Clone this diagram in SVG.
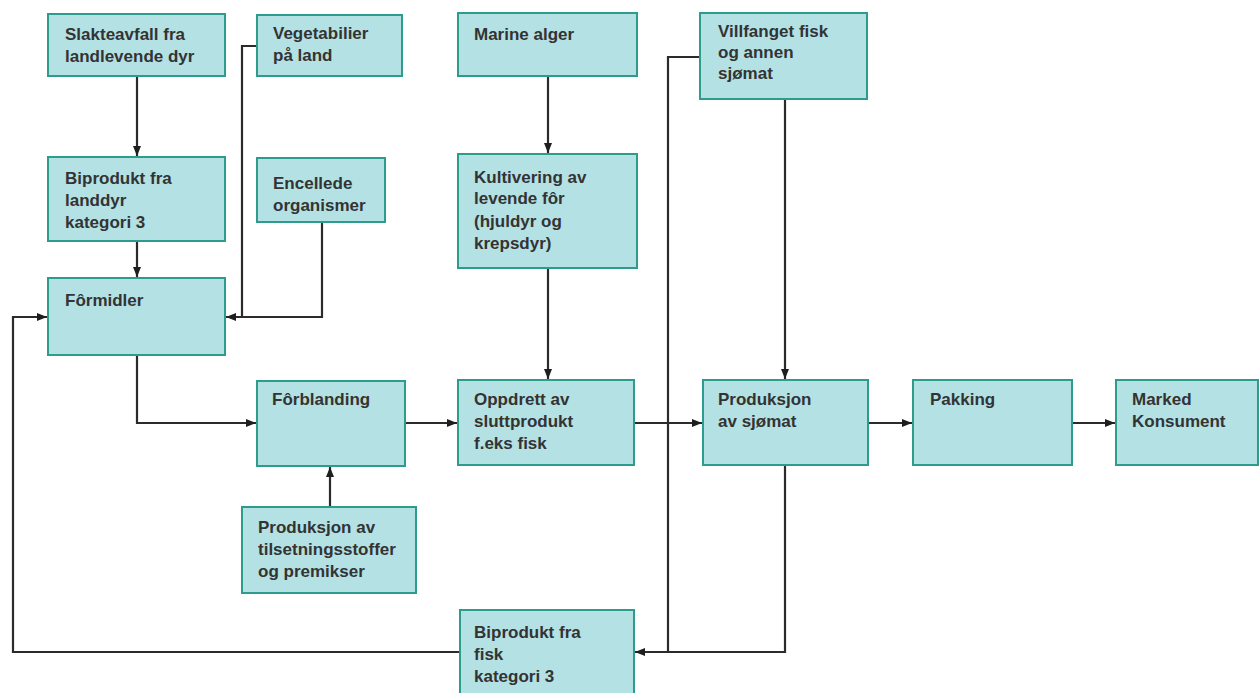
<svg xmlns="http://www.w3.org/2000/svg" width="1260" height="693" viewBox="0 0 1260 693">
<style>
.box{fill:#b4e1e4;stroke:#2e9c8c;stroke-width:2}
.t{font-family:"Liberation Sans",Arial,sans-serif;font-size:17px;font-weight:bold;fill:#333333}
.c{fill:none;stroke:#2b2b2b;stroke-width:2.2}
</style>
<defs>
<marker id="ah" viewBox="0 0 10 10" refX="10" refY="5" markerWidth="10" markerHeight="10" orient="auto" markerUnits="userSpaceOnUse">
<path d="M0,1 L10,5 L0,9 z" fill="#1e1e1e"/>
</marker>
</defs>
<rect width="1260" height="693" fill="#ffffff"/>
<g id="connectors">
<path class="c" d="M137,76 V156" marker-end="url(#ah)"/>
<path class="c" d="M137,241 V277" marker-end="url(#ah)"/>
<path class="c" d="M257,46 H242 V317"/>
<path class="c" d="M322,222 V317 H226" marker-end="url(#ah)"/>
<path class="c" d="M137,355 V423 H256" marker-end="url(#ah)"/>
<path class="c" d="M330,507 V467" marker-end="url(#ah)"/>
<path class="c" d="M405,423 H457" marker-end="url(#ah)"/>
<path class="c" d="M548,76 V153" marker-end="url(#ah)"/>
<path class="c" d="M548,268 V379" marker-end="url(#ah)"/>
<path class="c" d="M634,423 H702" marker-end="url(#ah)"/>
<path class="c" d="M785,99 V379" marker-end="url(#ah)"/>
<path class="c" d="M700,57 H668 V652"/>
<path class="c" d="M785,465 V652 H635" marker-end="url(#ah)"/>
<path class="c" d="M460,652 H13 V317 H47" marker-end="url(#ah)"/>
<path class="c" d="M868,423 H912" marker-end="url(#ah)"/>
<path class="c" d="M1072,423 H1115" marker-end="url(#ah)"/>
</g>
<g id="n1"><rect class="box" x="48" y="14" width="177" height="62"/><text class="t" x="65" y="40">Slakteavfall fra</text><text class="t" x="65" y="62">landlevende dyr</text></g>
<g id="n2"><rect class="box" x="257" y="15" width="145" height="61"/><text class="t" x="273" y="39">Vegetabilier</text><text class="t" x="273" y="61">på land</text></g>
<g id="n3"><rect class="box" x="458" y="13" width="179" height="63"/><text class="t" x="474" y="40">Marine alger</text></g>
<g id="n4"><rect class="box" x="700" y="13" width="167" height="86"/><text class="t" x="718" y="37">Villfanget fisk</text><text class="t" x="718" y="58">og annen</text><text class="t" x="718" y="79">sjømat</text></g>
<g id="n5"><rect class="box" x="48" y="157" width="177" height="84"/><text class="t" x="65" y="184">Biprodukt fra</text><text class="t" x="65" y="206">landdyr</text><text class="t" x="65" y="228">kategori 3</text></g>
<g id="n6"><rect class="box" x="257" y="158" width="128" height="64"/><text class="t" x="273" y="189">Encellede</text><text class="t" x="273" y="211">organismer</text></g>
<g id="n7"><rect class="box" x="458" y="154" width="179" height="114"/><text class="t" x="474" y="183">Kultivering av</text><text class="t" x="474" y="204">levende fôr</text><text class="t" x="474" y="227">(hjuldyr og</text><text class="t" x="474" y="249">krepsdyr)</text></g>
<g id="n8"><rect class="box" x="48" y="278" width="177" height="77"/><text class="t" x="65" y="306">Fôrmidler</text></g>
<g id="n9"><rect class="box" x="257" y="381" width="148" height="85"/><text class="t" x="272" y="405">Fôrblanding</text></g>
<g id="n10"><rect class="box" x="242" y="507" width="174" height="86"/><text class="t" x="258" y="533">Produksjon av</text><text class="t" x="258" y="555">tilsetningsstoffer</text><text class="t" x="258" y="577">og premikser</text></g>
<g id="n11"><rect class="box" x="458" y="380" width="176" height="85"/><text class="t" x="474" y="405">Oppdrett av</text><text class="t" x="474" y="427">sluttprodukt</text><text class="t" x="474" y="449">f.eks fisk</text></g>
<g id="n12"><rect class="box" x="703" y="380" width="165" height="85"/><text class="t" x="718" y="405">Produksjon</text><text class="t" x="718" y="427">av sjømat</text></g>
<g id="n13"><rect class="box" x="913" y="380" width="159" height="85"/><text class="t" x="930" y="405">Pakking</text></g>
<g id="n14"><rect class="box" x="1116" y="380" width="142" height="85"/><text class="t" x="1132" y="405">Marked</text><text class="t" x="1132" y="427">Konsument</text></g>
<g id="n15"><rect class="box" x="460" y="610" width="174" height="85"/><text class="t" x="474" y="638">Biprodukt fra</text><text class="t" x="474" y="660">fisk</text><text class="t" x="474" y="682">kategori 3</text></g>
</svg>
